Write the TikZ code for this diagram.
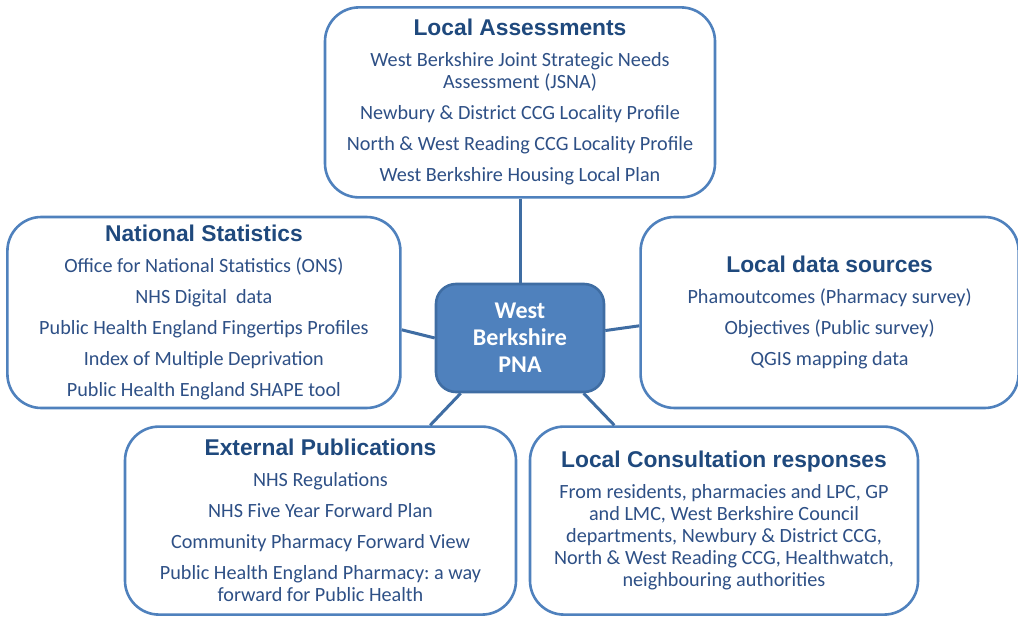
\documentclass[tikz,border=0pt]{standalone}
\usepackage{fontspec}
\setmainfont{Carlito}
\newfontfamily\headfont{Liberation Sans}
\usepackage{xcolor}
\usetikzlibrary{positioning}
\frenchspacing
\definecolor{edgeblue}{HTML}{4F81BD}
\definecolor{hubline}{HTML}{3F6DA3}
\definecolor{headblue}{HTML}{1F497D}
\definecolor{bodyblue}{HTML}{2E5086}
\tikzset{
  panel/.style={draw=edgeblue, line width=2.6pt, rounded corners=34pt, fill=white, align=center, inner sep=0pt, text=bodyblue, font=\fontsize{20.2}{22}\selectfont},
  hub/.style={draw=hubline, line width=2.6pt, rounded corners=20pt, fill=edgeblue, align=center, text=white, inner sep=0pt, minimum width=168pt, minimum height=108pt, font=\fontsize{24}{27}\selectfont\bfseries},
  link/.style={draw=hubline, line width=3pt},
}
\newcommand{\heading}[1]{{\headfont\bfseries\fontsize{22.8}{22}\selectfont\color{headblue}#1}}

\begin{document}
\begin{tikzpicture}
\useasboundingbox (0,0) rectangle (1018pt,-617pt);
\node[hub] (pna) at (520pt,-338pt) {West\\Berkshire\\PNA};
\node[panel, minimum width=390pt, minimum height=190pt, above=84pt of pna] (la) {\heading{Local Assessments}\\[9pt]
  West Berkshire Joint Strategic Needs\\Assessment (JSNA)\\[9pt]
  Newbury \& District CCG Locality Profile\\[9pt]
  North \& West Reading CCG Locality Profile\\[9pt]
  West Berkshire Housing Local Plan};
\node[panel, minimum width=393pt, minimum height=191pt, left=33pt of pna, yshift=25.5pt] (ns) {\heading{National Statistics}\\[9pt]
  Office for National Statistics (ONS)\\[9pt]
  NHS Digital\ \ data\\[9pt]
  Public Health England Fingertips Profiles\\[9pt]
  Index of Multiple Deprivation\\[9pt]
  Public Health England SHAPE tool};
\node[panel, minimum width=378pt, minimum height=191pt, right=34pt of pna, yshift=25.5pt] (lds) {\heading{Local data sources}\\[9pt]
  Phamoutcomes (Pharmacy survey)\\[9pt]
  Objectives (Public survey)\\[9pt]
  QGIS mapping data};
\node[panel, minimum width=391pt, minimum height=188pt, below=32pt of pna, xshift=-199.5pt] (ep) {\heading{External Publications}\\[9pt]
  NHS Regulations\\[9pt]
  NHS Five Year Forward Plan\\[9pt]
  Community Pharmacy Forward View\\[9pt]
  Public Health England Pharmacy: a way\\forward for Public Health};
\node[panel, minimum width=388pt, minimum height=188pt, below=32pt of pna, xshift=204pt] (lc) {\heading{Local Consultation responses}\\[9pt]
  From residents, pharmacies and LPC, GP\\
  and LMC, West Berkshire Council\\
  departments, Newbury \& District CCG,\\
  North \& West Reading CCG, Healthwatch,\\
  neighbouring authorities};
% spokes
\draw[link] (la.south) -- (pna.north);
\draw[link] (ns.355) -- (pna.west);
\draw[link] (pna.5) -- (lds.184.5);
\draw[link] (pna.223) -- (ep.41);
\draw[link] (pna.319) -- (lc.139);
\end{tikzpicture}
\end{document}
